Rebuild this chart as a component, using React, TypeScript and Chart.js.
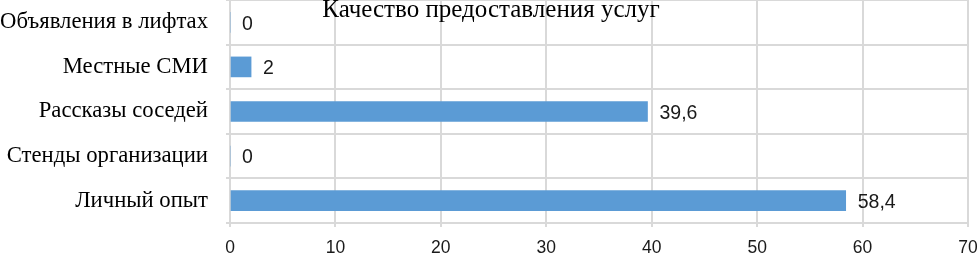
import React, { useEffect, useRef } from "react";
import { Chart, registerables } from "chart.js";

Chart.register(...registerables);

const categories = [
  "Объявления в лифтах",
  "Местные СМИ",
  "Рассказы соседей",
  "Стенды организации",
  "Личный опыт",
];
const values = [0, 2, 39.6, 0, 58.4];
const valueLabels = ["0", "2", "39,6", "0", "58,4"];
const titleText = "Качество предоставления услуг";
const xMin = 0;
const xMax = 70;
const xStep = 10;

const GRID = "#D9D9D9";
const BAR = "#5B9BD5";

const overlayPlugin = {
  id: "overlay",
  afterDatasetsDraw(chart: any) {
    const ctx = chart.ctx;
    const meta = chart.getDatasetMeta(0);
    ctx.save();
    ctx.fillStyle = "#1a1a1a";
    ctx.font = "19.5px 'Liberation Sans', Arial, sans-serif";
    ctx.textAlign = "left";
    ctx.textBaseline = "middle";
    meta.data.forEach((bar: any, i: number) => {
      ctx.fillText(valueLabels[i], bar.x + 12, bar.y + 2);
    });
    ctx.fillStyle = "#000";
    ctx.font = "25px 'Liberation Serif', 'Times New Roman', serif";
    ctx.textAlign = "center";
    ctx.textBaseline = "alphabetic";
    ctx.fillText(titleText, 491, 17);
    ctx.restore();
  },
};

export default function App() {
  const ref = useRef<HTMLCanvasElement>(null);
  useEffect(() => {
    const chart = new Chart(ref.current as HTMLCanvasElement, {
      type: "bar",
      data: {
        labels: categories,
        datasets: [
          {
            data: values,
            backgroundColor: BAR,
            borderWidth: 0,
            barThickness: 20,
          },
        ],
      },
      options: {
        indexAxis: "y",
        animation: false,
        responsive: false,
        maintainAspectRatio: false,
        layout: { padding: { left: 0, right: 9, top: 0, bottom: 0 } },
        plugins: {
          legend: { display: false },
          title: { display: false },
          tooltip: { enabled: false },
        },
        scales: {
          x: {
            min: xMin,
            max: xMax,
            afterFit: (s: any) => {
              s.height = 30;
              s.paddingLeft = 0;
              s.paddingRight = 0;
            },
            ticks: {
              stepSize: xStep,
              color: "#1a1a1a",
              padding: 10.5,
              font: { family: "'Liberation Sans', Arial, sans-serif", size: 17.5 },
              maxRotation: 0,
            },
            grid: { color: GRID, lineWidth: 2, tickLength: 4, drawTicks: true },
            border: { color: GRID, width: 2 },
          },
          y: {
            afterFit: (s: any) => {
              s.width = 230;
              s.paddingTop = 0;
              s.paddingBottom = 0;
            },
            ticks: {
              color: "#000",
              padding: 18,
              font: { family: "'Liberation Serif', 'Times New Roman', serif", size: 22.7 },
            },
            grid: { color: GRID, lineWidth: 2, tickLength: 4, offset: true },
            border: { color: GRID, width: 2 },
          },
        },
      },
      plugins: [overlayPlugin],
    });
    return () => chart.destroy();
  }, []);
  return (
    <div style={{ position: "absolute", left: 0, top: 0, width: 977, height: 253, background: "#fff" }}>
      <canvas ref={ref} width={977} height={253} />
    </div>
  );
}
